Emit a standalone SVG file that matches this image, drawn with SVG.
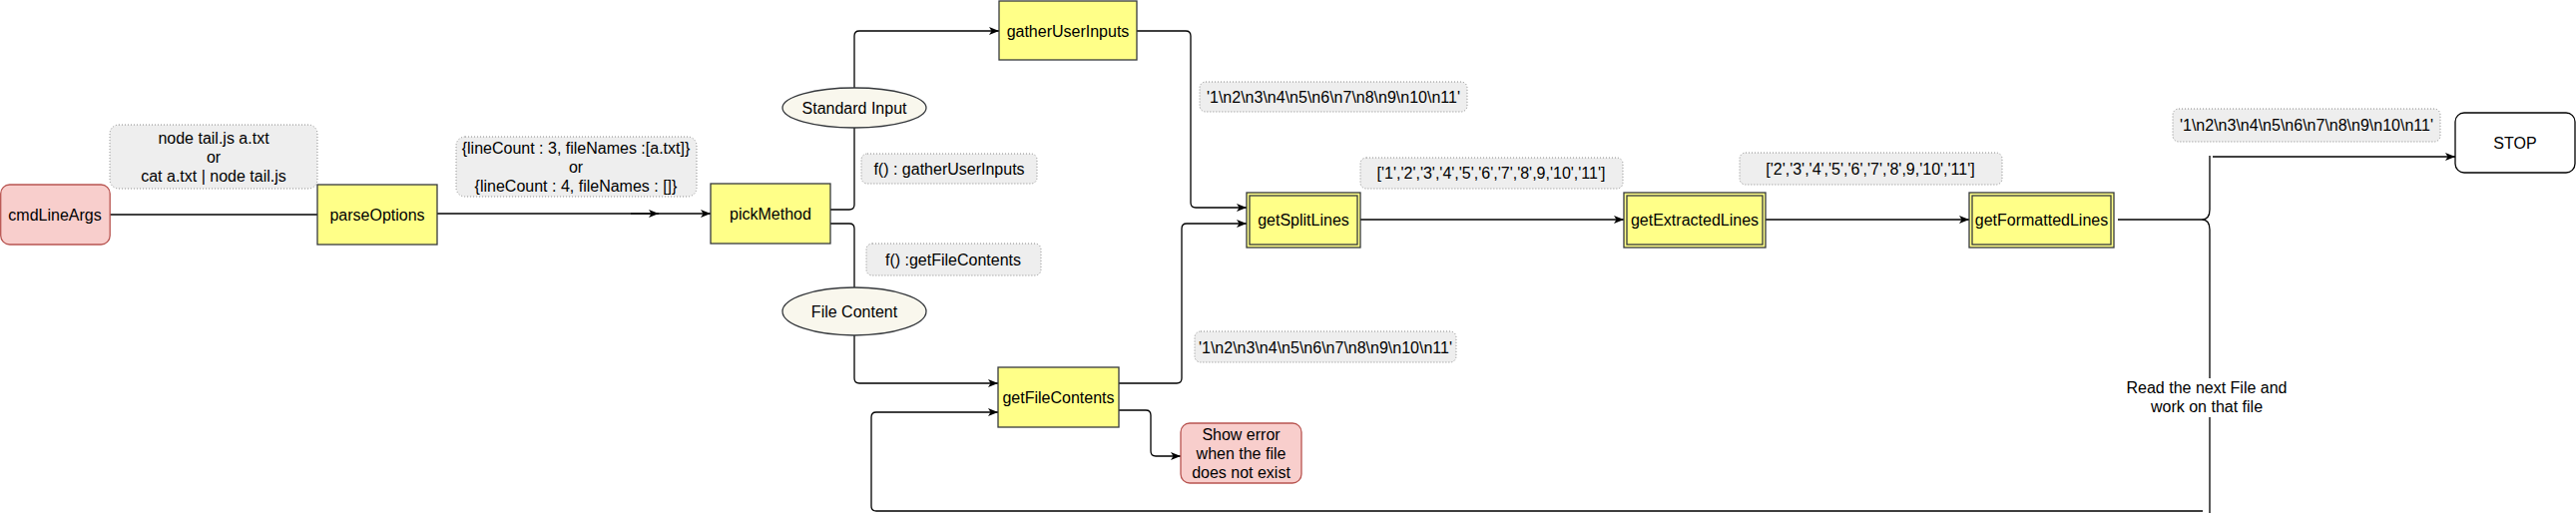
<svg xmlns="http://www.w3.org/2000/svg" width="2581" height="522" viewBox="0 0 2581 522">
<style>
text{font-family:"Liberation Sans",Arial,Helvetica,sans-serif;font-size:16px;fill:#000;text-anchor:middle}
.proc{fill:#ffff88;stroke:#36393d;stroke-width:1.3}
.red{fill:#f8cecc;stroke:#b85450;stroke-width:1.3}
.ell{fill:#f9f7ed;stroke:#36393d;stroke-width:1.3}
.stop{fill:#ffffff;stroke:#000;stroke-width:1.3}
.lbl{fill:#eeeeee;stroke:#888888;stroke-width:1;stroke-dasharray:1 2}
.edge{fill:none;stroke:#000;stroke-width:1.3}
</style>
<defs>
<marker id="arr" markerUnits="userSpaceOnUse" markerWidth="12" markerHeight="10" refX="10" refY="4" orient="auto">
<path d="M0,0 L10,4 L0,8 L2.5,4 Z" fill="#000"/>
</marker>
</defs>
<rect width="2581" height="522" fill="#ffffff"/>

<g id="connectors">
<path class="edge" d="M110,215 L318,215"/>
<path class="edge" d="M438,214 L712,214" marker-end="url(#arr)"/>
<path class="edge" d="M632,214 L660,214" stroke-width="2.2" marker-end="url(#arr)"/>
<path class="edge" d="M832,210 L851,210 Q856,210 856,205 L856,36 Q856,31 861,31 L1001,31" marker-end="url(#arr)"/>
<path class="edge" d="M832,224 L851,224 Q856,224 856,229 L856,379 Q856,384 861,384 L1000,384" marker-end="url(#arr)"/>
<path class="edge" d="M1139,31 L1188,31 Q1193,31 1193,36 L1193,203 Q1193,208 1198,208 L1249,208" marker-end="url(#arr)"/>
<path class="edge" d="M1121,384 L1179,384 Q1184,384 1184,379 L1184,229 Q1184,224 1189,224 L1249,224" marker-end="url(#arr)"/>
<path class="edge" d="M1121,411 L1148,411 Q1153,411 1153,416 L1153,452 Q1153,457 1158,457 L1183,457" marker-end="url(#arr)"/>
<path class="edge" d="M1363,220 L1627,220" marker-end="url(#arr)"/>
<path class="edge" d="M1769,220 L1973,220" marker-end="url(#arr)"/>
<path class="edge" d="M2122,220 L2206,220"/>
<path class="edge" d="M2214,156 L2214,210 Q2214,220 2206,220 Q2214,220 2214,230 L2214,283"/>
<path class="edge" d="M2217,157 L2460,157" marker-end="url(#arr)"/>
<path class="edge" d="M2214,283 L2214,514"/>
<path class="edge" d="M2207,512 L878,512 Q873,512 873,507 L873,418 Q873,413 878,413 L1000,413" marker-end="url(#arr)"/>
<g id="edge-label-next">
<rect x="2128" y="379" width="166" height="39" fill="#ffffff"/>
<text x="2211" y="394">Read the next File and</text>
<text x="2211" y="413">work on that file</text>
</g>
</g>

<g id="label-args">
<rect class="lbl" x="110" y="125" width="208" height="64" rx="9"/>
<text x="214" y="144">node tail.js a.txt</text>
<text x="214" y="163">or</text>
<text x="214" y="182">cat a.txt | node tail.js</text>
</g>
<g id="label-options">
<rect class="lbl" x="457" y="137" width="241" height="60" rx="9"/>
<text x="577" y="154">{lineCount : 3, fileNames :[a.txt]}</text>
<text x="577" y="173">or</text>
<text x="577" y="192">{lineCount : 4, fileNames : []}</text>
</g>
<g id="label-fgather">
<rect class="lbl" x="863" y="154" width="176" height="30" rx="6"/>
<text x="951" y="175">f() : gatherUserInputs</text>
</g>
<g id="label-ffile">
<rect class="lbl" x="868" y="244" width="175" height="32" rx="6"/>
<text x="955" y="266">f() :getFileContents</text>
</g>
<g id="label-str1">
<rect class="lbl" x="1202" y="82" width="268" height="30" rx="6"/>
<text x="1336" y="103">'1\n2\n3\n4\n5\n6\n7\n8\n9\n10\n11'</text>
</g>
<g id="label-arr1">
<rect class="lbl" x="1363" y="158" width="263" height="31" rx="6"/>
<text x="1494" y="179">['1','2','3','4','5','6','7','8',9,'10','11']</text>
</g>
<g id="label-str2">
<rect class="lbl" x="1197" y="332" width="262" height="31" rx="6"/>
<text x="1328" y="354">'1\n2\n3\n4\n5\n6\n7\n8\n9\n10\n11'</text>
</g>
<g id="label-arr2">
<rect class="lbl" x="1743" y="153" width="263" height="32" rx="6"/>
<text x="1874" y="175">['2','3','4','5','6','7','8',9,'10','11']</text>
</g>
<g id="label-str3">
<rect class="lbl" x="2177" y="109" width="268" height="33" rx="6"/>
<text x="2311" y="131">'1\n2\n3\n4\n5\n6\n7\n8\n9\n10\n11'</text>
</g>

<g id="node-cmdLineArgs">
<rect class="red" x="0.7" y="185" width="109.5" height="60" rx="9"/>
<text x="55" y="221">cmdLineArgs</text>
</g>
<g id="node-parseOptions">
<rect class="proc" x="318" y="185" width="120" height="60"/>
<text x="378" y="221">parseOptions</text>
</g>
<g id="node-pickMethod">
<rect class="proc" x="712" y="184" width="120" height="60"/>
<text x="772" y="220">pickMethod</text>
</g>
<g id="node-standardInput">
<ellipse class="ell" cx="856" cy="108" rx="72" ry="20"/>
<text x="856" y="114">Standard Input</text>
</g>
<g id="node-fileContent">
<ellipse class="ell" cx="856" cy="312" rx="72" ry="24"/>
<text x="856" y="318">File Content</text>
</g>
<g id="node-gatherUserInputs">
<rect class="proc" x="1001" y="1" width="138" height="59"/>
<text x="1070" y="37">gatherUserInputs</text>
</g>
<g id="node-getFileContents">
<rect class="proc" x="1000" y="368" width="121" height="60"/>
<text x="1060.5" y="404">getFileContents</text>
</g>
<g id="node-showError">
<rect class="red" x="1183" y="424" width="121" height="60" rx="9"/>
<text x="1243.5" y="441">Show error</text>
<text x="1243.5" y="460">when the file</text>
<text x="1243.5" y="479">does not exist</text>
</g>
<g id="node-getSplitLines">
<rect class="proc" x="1249" y="193" width="114" height="55"/>
<rect x="1252" y="196" width="108" height="49" fill="none" stroke="#36393d" stroke-width="1.3"/>
<text x="1306" y="226">getSplitLines</text>
</g>
<g id="node-getExtractedLines">
<rect class="proc" x="1627" y="193" width="142" height="55"/>
<rect x="1630" y="196" width="136" height="49" fill="none" stroke="#36393d" stroke-width="1.3"/>
<text x="1698" y="226">getExtractedLines</text>
</g>
<g id="node-getFormattedLines">
<rect class="proc" x="1973" y="193" width="145" height="55"/>
<rect x="1976" y="196" width="139" height="49" fill="none" stroke="#36393d" stroke-width="1.3"/>
<text x="2045.5" y="226">getFormattedLines</text>
</g>
<g id="node-stop">
<rect class="stop" x="2460" y="113" width="120" height="60" rx="9"/>
<text x="2520" y="149">STOP</text>
</g>
</svg>
